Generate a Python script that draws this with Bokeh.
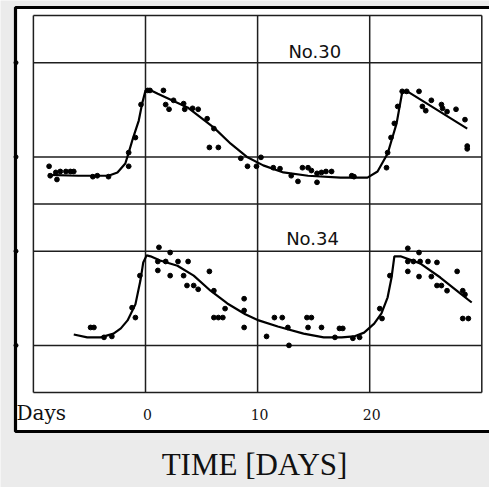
from bokeh.plotting import figure
from bokeh.models import Range1d
from bokeh.embed import file_html
from bokeh.resources import INLINE
from bokeh.core.properties import value

# ---------------- data (days, chart level in grid units) ----------------
no30_curve_day = [-8.7, -6.0, -3.3, -2.5, -1.8, -1.5, -1.1, -0.6, -0.3, 0.0, 0.5, 1.1,
                  3.75, 6.1, 7.6, 9.1, 10.5, 12.3, 14.5, 17.4, 19.8, 20.7, 21.6,
                  22.0, 22.4, 22.9, 23.5, 28.7]
no30_curve_val = [4.62, 4.60, 4.60, 4.67, 4.86, 5.09, 5.41, 5.77, 6.13, 6.41, 6.41, 6.34,
                  6.05, 5.62, 5.28, 4.99, 4.82, 4.67, 4.60, 4.56, 4.56, 4.69, 5.07,
                  5.39, 5.71, 6.37, 6.37, 5.60]

no30_dot_day = [-8.6, -8.5, -8.0, -7.9, -7.6, -7.1, -6.7, -6.4, -4.7, -4.3, -3.3, -1.5,
                -1.5, -0.9, -0.4, 0.2, 0.4, 1.6, 1.8, 2.1, 2.5, 3.4, 3.5, 4.2, 4.7,
                5.5, 6.1, 5.7, 6.5, 8.5, 9.1, 9.9, 10.3, 11.4, 12.0, 13.0, 13.6, 14.0,
                14.5, 14.8, 15.3, 15.3, 15.7, 16.1, 16.6, 18.4, 18.6, 21.5, 21.6, 21.9,
                22.2, 22.5, 22.9, 23.3, 24.4, 24.7, 25.0, 25.5, 26.4, 26.5, 26.9, 27.7,
                28.5, 28.7, 28.7]
no30_dot_val = [4.80, 4.60, 4.67, 4.52, 4.69, 4.69, 4.69, 4.69, 4.58, 4.60, 4.58, 4.80,
                5.09, 5.41, 6.11, 6.41, 6.41, 6.41, 6.11, 6.01, 6.20, 6.13, 6.01, 6.03, 6.01,
                5.81, 5.60, 5.20, 5.20, 4.97, 4.80, 4.80, 4.99, 4.77, 4.75, 4.60, 4.48, 4.77,
                4.77, 4.71, 4.65, 4.46, 4.67, 4.69, 4.69, 4.60, 4.58, 4.77, 5.09, 5.41,
                5.71, 6.07, 6.39, 6.39, 6.39, 6.07, 5.98, 6.20, 6.11, 6.03, 5.96, 6.01,
                5.79, 5.23, 5.17]

no34_curve_day = [-6.4, -5.2, -4.0, -2.85, -2.2, -1.6, -0.9, -0.45, -0.2, 0.1, 0.45, 1.3,
                  2.85, 4.3, 5.8, 7.3, 8.9, 10.1, 11.8, 14.1, 15.9, 17.5, 18.6, 19.5,
                  20.4, 21.05, 21.6, 21.95, 22.2, 22.75, 24.5, 26.3, 28.1, 29.1]
no34_curve_val = [1.23, 1.17, 1.17, 1.25, 1.36, 1.53, 1.87, 2.38, 2.76, 2.91, 2.89, 2.80,
                  2.69, 2.48, 2.16, 1.89, 1.66, 1.53, 1.40, 1.25, 1.17, 1.17, 1.19, 1.27,
                  1.46, 1.68, 2.02, 2.44, 2.89, 2.89, 2.74, 2.44, 2.10, 1.91]

no34_dot_day = [-4.9, -4.6, -3.7, -3.0, -1.2, -0.9, -0.5, 1.2, 1.1, 1.1, 1.8, 2.2, 2.2,
                2.9, 3.8, 3.4, 3.7, 4.3, 4.7, 5.7, 6.1, 6.1, 6.5, 6.9, 7.1, 8.8, 8.8,
                8.8, 10.8, 11.5, 12.2, 12.8, 12.7, 14.4, 14.8, 14.5, 15.7, 17.3, 17.6,
                16.9, 18.5, 19.1, 20.9, 21.1, 21.8, 23.4, 24.4, 23.4, 23.9, 24.5, 25.2,
                26.0, 23.4, 24.4, 25.5, 26.0, 26.4, 26.9, 27.8, 28.3, 28.5, 28.3, 28.8]
no34_dot_val = [1.38, 1.38, 1.17, 1.19, 1.80, 1.59, 2.48, 3.08, 2.78, 2.59, 2.78, 2.97, 2.48,
                2.78, 2.78, 2.48, 2.27, 2.27, 2.19, 2.57, 2.16, 1.59, 1.59, 1.59, 1.78, 1.99, 1.74,
                1.38, 1.19, 1.59, 1.59, 1.00, 1.38, 1.59, 1.59, 1.38, 1.38, 1.36, 1.36,
                1.17, 1.15, 1.17, 1.78, 1.57, 2.48, 3.06, 2.97, 2.78, 2.78, 2.78, 2.78,
                2.76, 2.57, 2.46, 2.46, 2.27, 2.27, 2.16, 2.57, 2.16, 2.08, 1.57, 1.57]

panel_labels = ["No.30", "No.34"]
panel_label_day = [15.1, 14.9]
panel_label_val = [7.24, 3.27]

x_ticks = [0, 10, 20]
x_tick_labels = ["0", "10", "20"]
x_axis_name = "Days"
x_title = "TIME [DAYS]"

grid_days = [-10, 0, 10, 20, 30]
grid_levels = [0, 1, 3, 4, 5, 7, 8]
edge_marks = [7, 5, 3, 1]

# ---------------- layout ----------------
W, H = 489, 487
PX_PER_DAY = 11.21
PX_PER_UNIT = 47.125
X0_PX, Y0_PX = 145.0, 392.0  # pixel position of day 0 / level 0


def dx(px):
    return (px - X0_PX) / PX_PER_DAY


def dy(py):
    return (Y0_PX - py) / PX_PER_UNIT


p = figure(width=W, height=H, output_backend="svg", toolbar_location=None,
           x_axis_type=None, y_axis_type=None, min_border=0,
           x_range=Range1d(dx(0), dx(W)), y_range=Range1d(dy(H), dy(0)))
p.outline_line_color = None
p.background_fill_color = "#ebebeb"
p.border_fill_color = "#ebebeb"
p.grid.visible = False

# outer sheet with black border
p.quad(left=dx(15), right=dx(W + 20), top=dy(7), bottom=dy(431),
       fill_color="white", line_color="black", line_width=3.2)
p.scatter(x=[dx(15.5)] * len(edge_marks), y=edge_marks, size=4, color="black")

# grid
gc = "#1e1e1e"
for d in grid_days:
    p.line(x=[d, d], y=[grid_levels[0], grid_levels[-1]], line_color=gc, line_width=1.5)
for lv in grid_levels:
    p.line(x=[grid_days[0], grid_days[-1]], y=[lv, lv], line_color=gc, line_width=1.5)

# curves and observations
p.line(no30_curve_day, no30_curve_val, line_color="black", line_width=2.2)
p.line(no34_curve_day, no34_curve_val, line_color="black", line_width=2.2)
p.scatter(no30_dot_day, no30_dot_val, size=4.8, color="black")
p.scatter(no34_dot_day, no34_dot_val, size=4.8, color="black")

# panel labels
p.text(x=panel_label_day, y=panel_label_val, text=panel_labels,
       text_font=value("DejaVu Sans"), text_font_size="18px",
       text_align="center", text_baseline="middle", text_color="#111111")

# axis texts
p.text(x=[dx(16)], y=[dy(412)], text=[x_axis_name], text_font=value("DejaVu Serif"),
       text_font_size="20px", text_align="left", text_baseline="middle",
       text_color="#111111")
p.text(x=x_ticks, y=[dy(414)] * len(x_ticks), text=x_tick_labels, x_offset=2,
       text_font=value("DejaVu Serif"), text_font_size="14px",
       text_align="center", text_baseline="middle", text_color="#111111")
p.text(x=[dx(254)], y=[dy(464)], text=[x_title], text_font=value("Liberation Serif"),
       text_font_size="31px", text_align="center", text_baseline="middle",
       text_color="#111111")

open("out.html", "w").write(file_html(p, INLINE))
